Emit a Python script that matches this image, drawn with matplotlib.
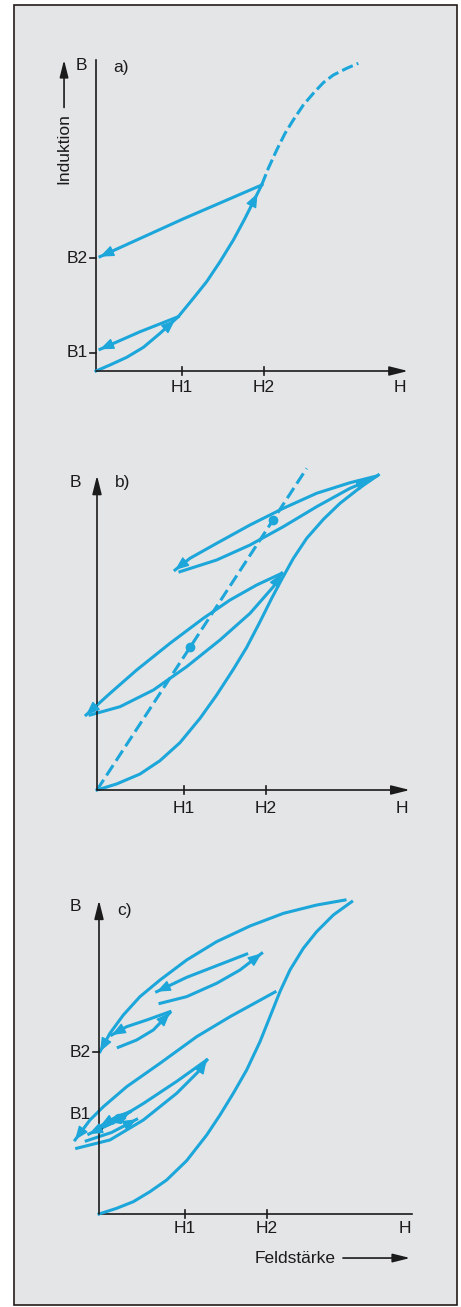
import matplotlib
matplotlib.use("Agg")
import matplotlib.pyplot as plt
from matplotlib.patches import Rectangle, ArrowStyle

# --- Config ---
W, H = 461, 1307          # output size in pixels
S = 85.0                  # pixels per field/induction unit
CYAN = "#1ca6da"
INK = "#1b1b1b"
PAPER = "#e4e5e7"
LW = 2.2
FONT = "Liberation Sans"
FS = 12.5

# --- a) virgin curve, minor return branches to B1 / B2 ---
A_VIRGIN_H = [0, 0.165, 0.361, 0.557, 0.753, 0.968, 1.145, 1.302, 1.459, 1.616, 1.753, 1.851, 1.949]
A_VIRGIN_B = [0, 0.071, 0.161, 0.278, 0.443, 0.639, 0.855, 1.051, 1.286, 1.541, 1.796, 1.992, 2.188]
A_DASH_H = [1.949, 2.027, 2.126, 2.224, 2.321, 2.439, 2.557, 2.674, 2.792, 2.949, 3.086]
A_DASH_B = [2.188, 2.384, 2.600, 2.796, 2.953, 3.129, 3.267, 3.392, 3.482, 3.561, 3.620]
A_RET1_H = [0.968, 0.518, 0.047]
A_RET1_B = [0.639, 0.462, 0.255]
A_RET2_H = [1.949, 1.027, 0.047]
A_RET2_B = [2.188, 1.790, 1.345]
A_HEADS = [(0.753, 0.443, 0.929, 0.600), (1.753, 1.796, 1.900, 2.090)]
A_HTICKS = [1.012, 1.976]
A_BTICKS = [0.212, 1.329]

# --- b) two minor loops with their centre line ---
B_VIRGIN_H = [0, 0.231, 0.506, 0.741, 0.976, 1.212, 1.408, 1.604, 1.761, 1.918,
              2.055, 2.173, 2.310, 2.467, 2.663, 2.859, 3.094, 3.310]
B_VIRGIN_B = [0, 0.071, 0.188, 0.345, 0.557, 0.843, 1.118, 1.420, 1.678, 1.980,
              2.255, 2.478, 2.725, 2.961, 3.184, 3.373, 3.557, 3.706]
B_LINE_H = [0, 2.467]
B_LINE_B = [0, 3.784]
B_MID_H = [1.094, 2.074]
B_MID_B = [1.678, 3.180]
B_L1_DOWN_H = [2.173, 1.879, 1.565, 1.251, 0.859, 0.467, 0.153, -0.129]
B_L1_DOWN_B = [2.549, 2.412, 2.235, 2.020, 1.726, 1.412, 1.137, 0.882]
B_L1_UP_H = [-0.082, 0.271, 0.663, 1.055, 1.447, 1.800, 2.075, 2.173]
B_L1_UP_B = [0.882, 0.980, 1.176, 1.451, 1.765, 2.078, 2.392, 2.549]
B_L2_DOWN_H = [3.290, 2.976, 2.584, 2.192, 1.800, 1.408, 1.094, 0.918]
B_L2_DOWN_B = [3.694, 3.615, 3.491, 3.314, 3.118, 2.902, 2.726, 2.588]
B_L2_UP_H = [0.976, 1.408, 1.800, 2.192, 2.584, 2.976, 3.212]
B_L2_UP_B = [2.568, 2.706, 2.882, 3.098, 3.333, 3.549, 3.647]
B_HTICKS = [1.024, 1.988]

# --- c) demagnetising loops down to B1 and B2 ---
C_VIRGIN_H = [0, 0.208, 0.404, 0.600, 0.796, 1.031, 1.267, 1.424, 1.580, 1.737, 1.894,
              2.012, 2.129, 2.247, 2.404, 2.561, 2.757, 2.973]
C_VIRGIN_B = [0, 0.067, 0.145, 0.263, 0.400, 0.627, 0.929, 1.165, 1.420, 1.694, 2.027,
              2.322, 2.616, 2.871, 3.126, 3.322, 3.518, 3.674]
C_OUTER_H = [2.894, 2.561, 2.169, 1.776, 1.384, 1.031, 0.718, 0.482, 0.286, 0.129, 0.012]
C_OUTER_B = [3.694, 3.635, 3.537, 3.388, 3.204, 2.988, 2.753, 2.557, 2.341, 2.126, 1.910]
C_HI_DOWN_H = [1.737, 1.384, 1.031, 0.678]
C_HI_DOWN_B = [3.058, 2.921, 2.784, 2.615]
C_HI_UP_H = [0.718, 1.031, 1.384, 1.659, 1.914]
C_HI_UP_B = [2.478, 2.557, 2.714, 2.871, 3.067]
C_LO_UP_H = [0.227, 0.443, 0.639, 0.835]
C_LO_UP_B = [1.961, 2.047, 2.165, 2.368]
C_LO_DOWN_H = [0.835, 0.561, 0.326, 0.149]
C_LO_DOWN_B = [2.380, 2.282, 2.204, 2.106]
C_RET_H = [2.071, 1.541, 1.149, 0.718, 0.326, 0.051, -0.106, -0.282]
C_RET_B = [2.612, 2.321, 2.086, 1.773, 1.498, 1.262, 1.106, 0.871]
C_SP1_UP_H = [-0.263, 0.129, 0.522, 0.914, 1.188, 1.267]
C_SP1_UP_B = [0.773, 0.871, 1.106, 1.420, 1.694, 1.812]
C_SP1_DOWN_H = [1.267, 0.914, 0.522, 0.129, -0.120]
C_SP1_DOWN_B = [1.812, 1.560, 1.300, 1.060, 0.940]
C_SP2_UP_H = [-0.150, 0.150, 0.443]
C_SP2_UP_B = [0.860, 0.960, 1.114]
C_SP2_DOWN_H = [0.365, 0.200, 0.010]
C_SP2_DOWN_B = [1.203, 1.140, 1.030]
C_SP3_UP_H = [0.000, 0.180, 0.365]
C_SP3_UP_B = [1.000, 1.080, 1.203]
C_SP3_DOWN_H = [0.300, 0.200, 0.090]
C_SP3_DOWN_B = [1.130, 1.110, 1.086]
C_HTICKS = [1.012, 1.973]
C_BTICKS = [0.996, 1.902]

HEAD = ArrowStyle("-|>", head_length=0.7, head_width=0.28)
AXHEAD = ArrowStyle("-|>", head_length=0.8, head_width=0.2)


def panel(fig, ox, oy, top, bottom):
    # axes covering a horizontal strip, data origin at pixel (ox, oy)
    ax = fig.add_axes([0, 1 - bottom / H, 1, (bottom - top) / H])
    ax.set_xlim(-ox / S, (W - ox) / S)
    ax.set_ylim((oy - bottom) / S, (oy - top) / S)
    ax.axis("off")
    return ax


def head(ax, x0, y0, x1, y1, color=CYAN, style=HEAD, scale=12, lw=1.0):
    ax.annotate("", xy=(x1, y1), xytext=(x0, y0),
                arrowprops=dict(arrowstyle=style, color=color, lw=lw,
                                shrinkA=0, shrinkB=0, mutation_scale=scale))


def curve(ax, h, b, arrow=True, ls="-"):
    ax.plot(h, b, color=CYAN, lw=LW, ls=ls, solid_joinstyle="round",
            dash_capstyle="butt")
    if arrow:
        head(ax, h[-2], b[-2], h[-1], b[-1])


def axes_lines(ax, xmax, ymax, xarrow=True, yarrow=True):
    if xarrow:
        head(ax, 0, 0, xmax, 0, color=INK, style=AXHEAD, scale=14, lw=1.2)
    else:
        ax.plot([0, xmax], [0, 0], color=INK, lw=1.2)
    if yarrow:
        head(ax, 0, 0, 0, ymax, color=INK, style=AXHEAD, scale=14, lw=1.2)
    else:
        ax.plot([0, 0], [0, ymax], color=INK, lw=1.2)


def txt(ax, x, y, s, **kw):
    ax.text(x, y, s, fontsize=FS, family=FONT, color=INK, va="center", **kw)


def h_ticks(ax, ticks, label_y, hx):
    for t, lab in zip(ticks, ["H1", "H2"]):
        ax.plot([t, t], [-0.05, 0.05], color=INK, lw=1.2)
        txt(ax, t, label_y, lab, ha="center")
    txt(ax, hx, label_y, "H", ha="center")


fig = plt.figure(figsize=(W / 100, H / 100), dpi=100)
fig.patch.set_facecolor("white")
fig.patches.append(Rectangle((14 / W, 1 - 1305 / H), 443 / W, 1300 / H,
                             transform=fig.transFigure, facecolor=PAPER,
                             edgecolor="#231c19", lw=1.2, zorder=-10))

# --- a) ---
ax = panel(fig, 96, 371, 0, 420)
axes_lines(ax, 3.67, 3.66, xarrow=True, yarrow=False)
curve(ax, A_VIRGIN_H, A_VIRGIN_B, arrow=False)
curve(ax, A_DASH_H, A_DASH_B, arrow=False, ls=(0, (3.8, 1.4)))
curve(ax, A_RET1_H, A_RET1_B)
curve(ax, A_RET2_H, A_RET2_B)
for x0, y0, x1, y1 in A_HEADS:
    head(ax, x0, y0, x1, y1)
h_ticks(ax, A_HTICKS, -0.2, 3.576)
for t, lab in zip(A_BTICKS, ["B1", "B2"]):
    ax.plot([-0.07, 0], [t, t], color=INK, lw=1.2)
    txt(ax, -0.1, t, lab, ha="right")
txt(ax, -0.168, 3.6, "B", ha="center")
txt(ax, 0.2, 3.565, "a)", ha="left")
txt(ax, -0.38, 2.612, "Induktion", ha="center", rotation=90)
head(ax, -0.376, 3.1, -0.376, 3.66, color=INK, style=AXHEAD, scale=13, lw=1.2)

# --- b) ---
ax = panel(fig, 97, 790, 420, 840)
axes_lines(ax, 3.68, 3.70)
ax.plot(B_LINE_H, B_LINE_B, color=CYAN, lw=LW, ls=(0, (4.0, 1.7)))
ax.plot(B_MID_H, B_MID_B, "o", color=CYAN, ms=6, lw=0)
curve(ax, B_VIRGIN_H, B_VIRGIN_B, arrow=False)
curve(ax, B_L1_DOWN_H, B_L1_DOWN_B)
curve(ax, B_L1_UP_H, B_L1_UP_B)
curve(ax, B_L2_DOWN_H, B_L2_DOWN_B)
curve(ax, B_L2_UP_H, B_L2_UP_B)
h_ticks(ax, B_HTICKS, -0.212, 3.588)
txt(ax, -0.259, 3.612, "B", ha="center")
txt(ax, 0.212, 3.612, "b)", ha="left")

# --- c) ---
ax = panel(fig, 99, 1214, 840, 1307)
axes_lines(ax, 3.68, 3.69, xarrow=False, yarrow=True)
curve(ax, C_VIRGIN_H, C_VIRGIN_B, arrow=False)
curve(ax, C_OUTER_H, C_OUTER_B)
curve(ax, C_HI_DOWN_H, C_HI_DOWN_B)
curve(ax, C_HI_UP_H, C_HI_UP_B)
curve(ax, C_LO_UP_H, C_LO_UP_B)
curve(ax, C_LO_DOWN_H, C_LO_DOWN_B)
curve(ax, C_RET_H, C_RET_B)
curve(ax, C_SP1_UP_H, C_SP1_UP_B)
curve(ax, C_SP1_DOWN_H, C_SP1_DOWN_B)
curve(ax, C_SP2_UP_H, C_SP2_UP_B)
curve(ax, C_SP2_DOWN_H, C_SP2_DOWN_B)
curve(ax, C_SP3_UP_H, C_SP3_UP_B)
curve(ax, C_SP3_DOWN_H, C_SP3_DOWN_B)
h_ticks(ax, C_HTICKS, -0.165, 3.6)
ax.plot([-0.07, 0], [C_BTICKS[1]] * 2, color=INK, lw=1.2)
ax.plot([-0.04, 0.04], [C_BTICKS[0]] * 2, color=INK, lw=1.2)
txt(ax, -0.1, 1.165, "B1", ha="right")
txt(ax, -0.1, C_BTICKS[1], "B2", ha="right")
txt(ax, -0.282, 3.612, "B", ha="center")
txt(ax, 0.22, 3.576, "c)", ha="left")
txt(ax, 1.835, -0.518, "Feldstärke", ha="left")
head(ax, 2.87, -0.518, 3.66, -0.518, color=INK, style=AXHEAD, scale=13, lw=1.2)

fig.savefig("out.png", dpi=100)
